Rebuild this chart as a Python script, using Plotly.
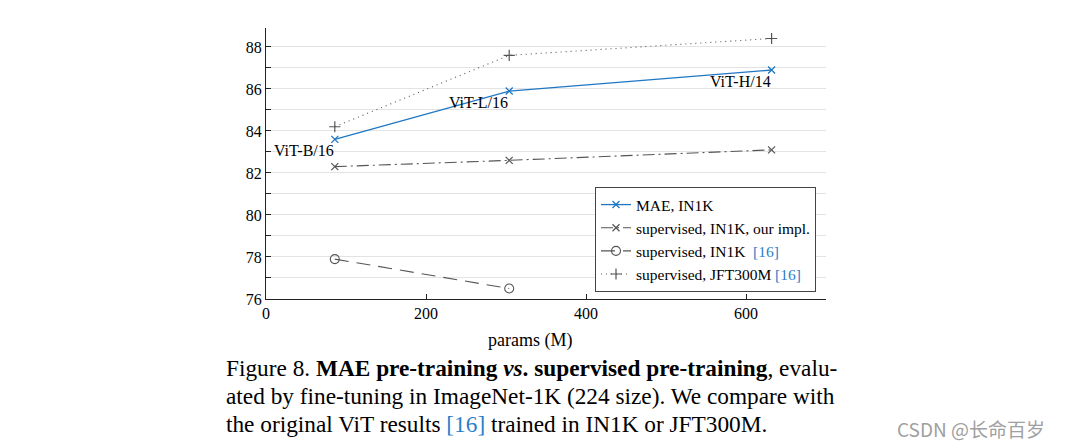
import plotly.graph_objects as go

params = [86, 304, 632]
model_labels = ["ViT-B/16", "ViT-L/16", "ViT-H/14"]
mae_in1k = [83.6, 85.9, 86.9]
sup_in1k_ours = [82.3, 82.6, 83.1]
params_vit = [86, 304]
sup_in1k_vit = [77.9, 76.5]
sup_jft = [84.2, 87.6, 88.4]

x_ticks = [0, 200, 400, 600]
y_ticks = [76, 78, 80, 82, 84, 86, 88]

BLUE = "#1f77c4"
GRAY = "#555555"
REF = "<span style='color:#2a7fc9'>[16]</span>"
SERIF = "Liberation Serif"

# page has an 8px body margin; plot area on page: x 266..826, y 28..299
OFF = 8
W, H = 1068 - OFF, 446 - OFF
L, R, T, B = 266, 826, 28, 299

fig = go.Figure()
fig.add_trace(go.Scatter(x=params, y=mae_in1k, mode="lines+markers", name="MAE, IN1K",
                         line=dict(color=BLUE, width=1.3),
                         marker=dict(symbol="x-thin", size=7, line=dict(color=BLUE, width=1.3))))
fig.add_trace(go.Scatter(x=params, y=sup_in1k_ours, mode="lines+markers", name="supervised, IN1K, our impl.",
                         line=dict(color=GRAY, width=1.1, dash="12px,4px,2px,4px"),
                         marker=dict(symbol="x-thin", size=7, line=dict(color=GRAY, width=1.2))))
fig.add_trace(go.Scatter(x=params_vit, y=sup_in1k_vit, mode="lines+markers", name="supervised, IN1K  " + REF,
                         line=dict(color=GRAY, width=1.1, dash="14px,8px"),
                         marker=dict(symbol="circle-open", size=9, color=GRAY, line=dict(color=GRAY, width=1.1))))
fig.add_trace(go.Scatter(x=params, y=sup_jft, mode="lines+markers", name="supervised, JFT300M " + REF,
                         line=dict(color=GRAY, width=1.1, dash="1px,4px"),
                         marker=dict(symbol="cross-thin", size=8, line=dict(color=GRAY, width=1.2))))

for xv, yv, lab in zip(params, mae_in1k, model_labels):
    fig.add_annotation(x=xv, y=yv, text=lab, showarrow=False, xanchor="right", yanchor="top",
                       xshift=1, yshift=-1, font=dict(family=SERIF, size=16, color="black"))

def px(xp):
    return (xp - L) / (R - L)

def py(yp):
    return (B - yp) / (B - T)

fig.add_annotation(xref="paper", yref="paper", x=px(530), y=py(340), text="params (M)", showarrow=False,
                   xanchor="center", yanchor="middle", font=dict(family=SERIF, size=18, color="black"))

caption = [
    "Figure 8. <b>MAE pre-training <i>vs</i>. supervised pre-training</b>, evalu-",
    "ated by fine-tuning in ImageNet-1K (224 size). We compare with",
    "the original ViT results " + REF + " trained in IN1K or JFT300M.",
]
for i, line in enumerate(caption):
    fig.add_annotation(xref="paper", yref="paper", x=px(224), y=py(368 + 28 * i), text=line,
                       showarrow=False, xanchor="left", yanchor="middle",
                       font=dict(family=SERIF, size=23.3, color="black"))

fig.add_annotation(xref="paper", yref="paper", x=px(1047), y=py(428), text="CSDN @长命百岁",
                   showarrow=False, xanchor="right", yanchor="middle",
                   font=dict(family="Noto Sans CJK SC", size=19, color="#a0a0a0"))

fig.update_layout(
    width=W, height=H,
    margin=dict(l=L - OFF, r=W - (R - OFF), t=T - OFF, b=H - (B - OFF)),
    paper_bgcolor="white", plot_bgcolor="white",
    font=dict(family=SERIF, size=16, color="black"),
    showlegend=True,
    legend=dict(x=px(595), y=py(292), xanchor="left", yanchor="bottom",
                bgcolor="white", bordercolor="#444444", borderwidth=1,
                font=dict(family=SERIF, size=15.5, color="black"),
                tracegroupgap=0, itemwidth=30),
    xaxis=dict(range=[0, 700], tickvals=x_ticks, ticks="inside", ticklen=5, tickcolor="#222",
               showline=True, linecolor="#222", linewidth=1, showgrid=False, zeroline=False,
               tickfont=dict(family=SERIF, size=16)),
    yaxis=dict(range=[76, 88.9], tickvals=y_ticks, ticks="inside", ticklen=5, tickcolor="#222",
               showline=True, linecolor="#222", linewidth=1, showgrid=True, gridcolor="#e3e3e3",
               gridwidth=1, zeroline=False, tickfont=dict(family=SERIF, size=16),
               minor=dict(dtick=1, tick0=76, ticks="inside", ticklen=5, tickcolor="#222",
                          showgrid=True, gridcolor="#e3e3e3", gridwidth=1)),
)

fig.write_html("out.html")
